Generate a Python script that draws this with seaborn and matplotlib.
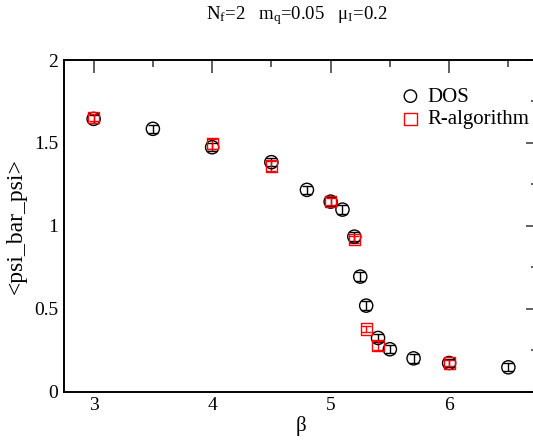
import matplotlib
matplotlib.use("Agg")
import matplotlib.pyplot as plt
import seaborn as sns
import pandas as pd
from matplotlib.ticker import MultipleLocator

# DOS data
dos_beta = [3.0, 3.5, 4.0, 4.5, 4.8, 5.0, 5.1, 5.2, 5.25, 5.3, 5.4, 5.5, 5.7, 6.0, 6.5]
dos_val = [1.645, 1.585, 1.474, 1.384, 1.217, 1.146, 1.098, 0.935, 0.694, 0.519, 0.324, 0.256, 0.201, 0.173, 0.147]
dos_err = [0.025, 0.025, 0.025, 0.025, 0.025, 0.025, 0.025, 0.025, 0.025, 0.025, 0.025, 0.025, 0.025, 0.025, 0.025]

# R-algorithm data
ralg_beta = [3.0, 4.0, 4.5, 5.0, 5.2, 5.3, 5.4, 6.0]
ralg_val = [1.653, 1.494, 1.361, 1.146, 0.919, 0.378, 0.278, 0.173]
ralg_err = [0.02, 0.03, 0.03, 0.02, 0.02, 0.02, 0.025, 0.02]

sns.set_theme(style="white")
plt.rcParams['font.family'] = ['Liberation Serif', 'DejaVu Serif']
plt.rcParams['mathtext.fontset'] = 'custom'
plt.rcParams['mathtext.rm'] = 'Liberation Serif'
plt.rcParams['mathtext.it'] = 'Liberation Serif:italic'
plt.rcParams['text.color'] = 'black'
plt.rcParams['axes.labelcolor'] = 'black'

df = pd.concat([
    pd.DataFrame({"beta": dos_beta, "val": dos_val, "err": dos_err, "series": "DOS"}),
    pd.DataFrame({"beta": ralg_beta, "val": ralg_val, "err": ralg_err, "series": "R-algorithm"}),
], ignore_index=True)

fig = plt.figure(figsize=(5.33, 4.4), dpi=100)
ax = fig.add_axes([64/533, 1-391.7/440, (538-64)/533, (391.7-60)/440])

colors = {"DOS": "black", "R-algorithm": "red"}
markers = {"DOS": "o", "R-algorithm": "s"}
sizes = {"DOS": 9.5, "R-algorithm": 8}

for name, sub in df.groupby("series", sort=False):
    ax.errorbar(sub["beta"], sub["val"], yerr=sub["err"], fmt="none",
                ecolor=colors[name], elinewidth=1.0, capsize=3.5, capthick=1.0, zorder=2)
for name, sub in df.groupby("series", sort=False):
    sns.scatterplot(x=sub["beta"], y=sub["val"], marker=markers[name],
                    s=sizes[name]**2, facecolors="none", edgecolor=colors[name],
                    linewidth=1.0, ax=ax, label=name, zorder=3)

ax.set_xlim(2.75, 6.75)
ax.set_ylim(0, 2)
ax.xaxis.set_major_locator(MultipleLocator(1))
ax.xaxis.set_minor_locator(MultipleLocator(0.5))
ax.yaxis.set_major_locator(MultipleLocator(0.5))
ax.yaxis.set_minor_locator(MultipleLocator(0.25))
ax.set_yticks([0, 0.5, 1, 1.5, 2])
ax.set_yticklabels(["0", "0.5", "1", "1.5", "2"])
ax.tick_params(which="both", direction="in", top=True, right=True, colors="#444444",
               labelcolor="black", labelsize=14, pad=4)
ax.tick_params(which="major", length=9, width=1.2)
ax.tick_params(which="minor", length=5, width=1.2)
for sp in ax.spines.values():
    sp.set_color("black")
    sp.set_linewidth(1.4)

ax.set_xlabel("β", fontsize=15, labelpad=1, color="black")
ax.set_ylabel("<psi_bar_psi>", fontsize=17, labelpad=5, color="black")
fig.text(297/533, 1-16/440, r"N$_\mathregular{f}$=2   m$_\mathregular{q}$=0.05   μ$_\mathregular{I}$=0.2",
         ha="center", va="center", fontsize=13.5, color="black")

leg = ax.legend(loc="upper left", bbox_to_anchor=((400-64)/474, (391.7-87)/331.7), frameon=False,
                fontsize=15, handletextpad=0.3, labelspacing=0.15, borderaxespad=0.0,
                handlelength=1.0, borderpad=0.0)
for t in leg.get_texts():
    t.set_color("black")
for h in leg.legend_handles:
    h.set_sizes([80])

fig.savefig("out.png", dpi=100)
